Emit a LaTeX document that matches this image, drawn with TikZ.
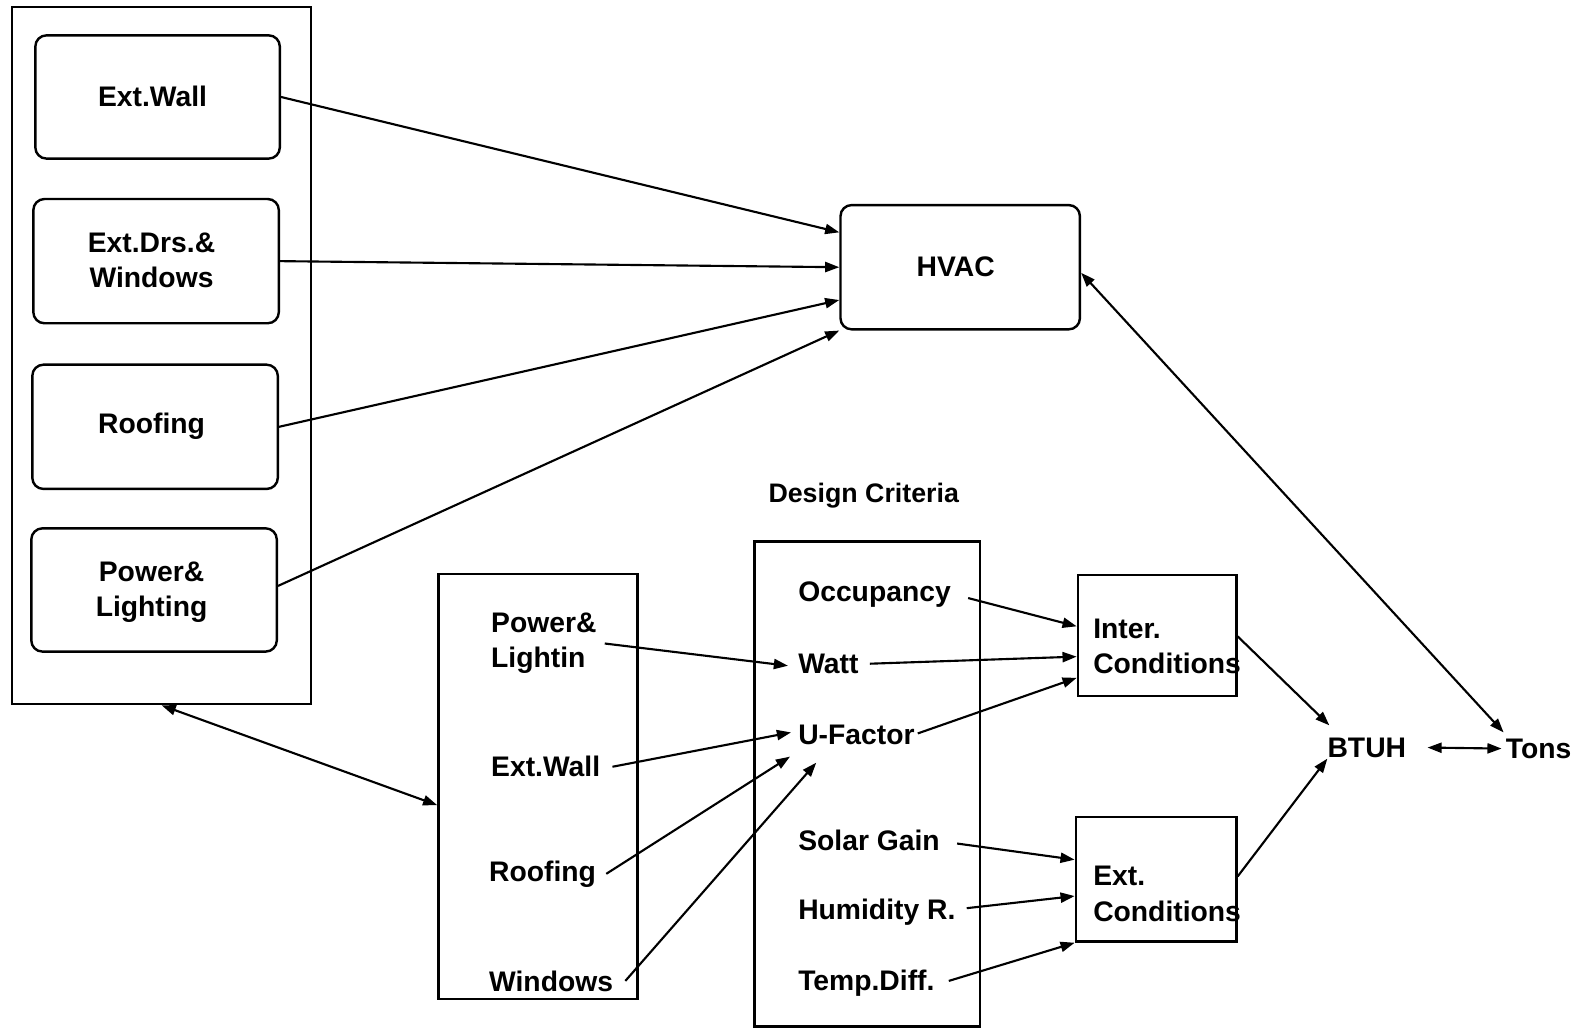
\documentclass[tikz,border=0pt]{standalone}
\usepackage{fontspec}
\setmainfont{Liberation Sans}
\usetikzlibrary{arrows.meta}
\begin{document}
\begin{tikzpicture}[x=1pt,y=-1pt,
  lbl/.style={font=\bfseries\fontsize{28}{35}\selectfont, inner sep=0pt},
  rbox/.style={draw, line width=2.4pt, rounded corners=11pt, lbl, align=center},
  pbox/.style={draw, line width=2.4pt},
  con/.style={line width=2.1pt, -{Triangle[length=14pt,width=10pt]}},
  dcon/.style={line width=2.1pt, {Triangle[length=14pt,width=10pt]}-{Triangle[length=14pt,width=10pt]}},
]
\useasboundingbox[fill=white] (0,0) rectangle (1568,1017);

% left column
\node[pbox, minimum width=296pt, minimum height=690pt] (outer) at (160,352) {};
\node[rbox, minimum width=242pt, minimum height=122pt] (ew) at (156,96) {};
\node[lbl] (ewt) at (151,95) {Ext.Wall};
\node[rbox, minimum width=243pt, minimum height=123pt] (edw) at (154.5,258.5) {};
\node[lbl, align=center] (edwt) at (150,258) {Ext.Drs.\&\\Windows};
\node[rbox, minimum width=243pt, minimum height=123pt] (roof) at (153.5,422.5) {};
\node[lbl] (rooft) at (150,422) {Roofing};
\node[rbox, minimum width=243pt, minimum height=122pt] (pl) at (152.5,584) {};
\node[lbl, align=center] (plt) at (150,586) {Power\&\\Lighting};

% HVAC
\node[rbox, minimum width=237pt, minimum height=123pt] (hvac) at (950.5,264.5) {};
\node[lbl] (hvact) at (946,264) {HVAC};

% middle box
\node[pbox, minimum width=197pt, minimum height=421pt] (mid) at (532.5,778.5) {};
\node[lbl, anchor=west, align=left] (mpl) at (486,637) {Power\&\\Lightin};
\node[lbl, anchor=west] (mew) at (486,759) {Ext.Wall};
\node[lbl, anchor=west] (mroof) at (484,865) {Roofing};
\node[lbl, anchor=west] (mwin) at (484,971) {Windows};

% design criteria
\node[font=\bfseries\fontsize{26.5}{30}\selectfont, inner sep=0pt] (dct) at (855,491) {Design Criteria};
\node[pbox, minimum width=223pt, minimum height=480pt] (dc) at (858.5,776) {};
\node[lbl, anchor=west] (occ) at (790,589) {Occupancy};
\node[lbl, anchor=west] (watt) at (790,657) {Watt};
\node[lbl, anchor=west] (uf) at (790,727) {U-Factor};
\node[lbl, anchor=west] (sol) at (790,832) {Solar Gain};
\node[lbl, anchor=west] (hum) at (790,903) {Humidity R.};
\node[lbl, anchor=west] (tmp) at (790,973) {Temp.Diff.};

% conditions
\node[pbox, minimum width=157pt, minimum height=120pt] (inter) at (1145.5,629) {};
\node[lbl, anchor=west, align=left] (intert) at (1082,640) {Inter.\\Conditions};
\node[pbox, minimum width=159pt, minimum height=123pt] (ext) at (1144.5,870.5) {};
\node[lbl, anchor=west, align=left] (extt) at (1082,885) {Ext.\\Conditions};

\node[lbl] (btuh) at (1353,740) {BTUH};
\node[lbl] (tons) at (1523,741) {Tons};

% connectors to HVAC
\draw[con] (ew.east) -- ([yshift=34.5pt]hvac.west);
\draw[con] (edw.east) -- (hvac.west);
\draw[con] (roof.east) -- ([yshift=-32.5pt]hvac.west);
\draw[con] ([yshift=4pt]pl.east) -- (hvac.south west);
\draw[dcon] ([yshift=-5.5pt]hvac.east) -- ([shift={(-2pt,6pt)}]tons.north west);

% left to middle
\draw[dcon] (outer.south) -- ([yshift=-18.5pt]mid.west);

% middle to design criteria
\draw[con] ([xshift=8pt]mpl.east) -- ([shift={(-10pt,-2pt)}]watt.west);
\draw[con] ([xshift=12pt]mew.east) -- ([shift={(-7pt,2pt)}]uf.west);
\draw[con] ([xshift=10pt]mroof.east) -- ([shift={(-8pt,-12pt)}]uf.south west);
\draw[con] ([xshift=12pt]mwin.east) -- ([shift={(18pt,-18pt)}]uf.south west);

% design criteria to conditions
\draw[con] ([shift={(17pt,-3pt)}]occ.east) -- ([yshift=9pt]inter.west);
\draw[con] ([xshift=11pt]watt.east) -- ([yshift=-21pt]inter.west);
\draw[con] ([shift={(3pt,1pt)}]uf.east) -- ([yshift=-42pt]inter.west);
\draw[con] ([shift={(17pt,-3pt)}]sol.east) -- ([yshift=19.5pt]ext.west);
\draw[con] ([shift={(11pt,4pt)}]hum.east) -- ([yshift=-16.5pt]ext.west);
\draw[con] ([shift={(14pt,2pt)}]tmp.east) -- (ext.south west);

% conditions to BTUH
\draw[con] ([yshift=-1pt]inter.east) -- ([shift={(2pt,12pt)}]btuh.north west);
\draw[con] ([yshift=3pt]ext.east) -- ([yshift=-1pt]btuh.south west);
\draw[dcon] ([xshift=21pt]btuh.east) -- ([xshift=-4pt]tons.west);
\end{tikzpicture}
\end{document}
